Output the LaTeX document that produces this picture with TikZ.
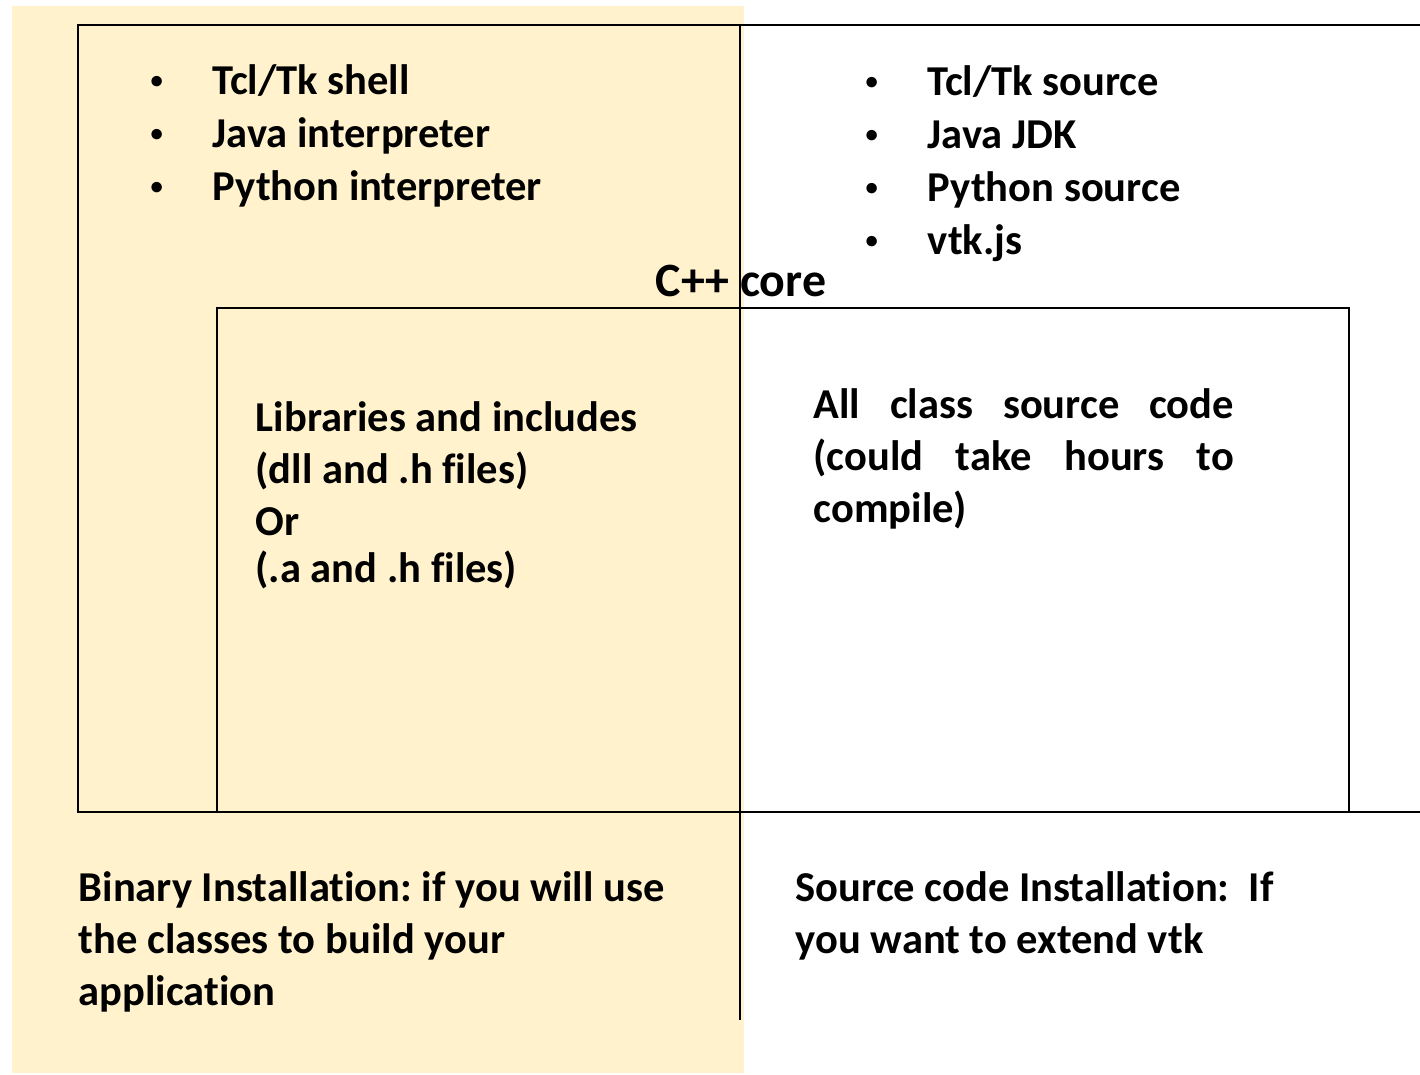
\documentclass[tikz,border=0pt]{standalone}
\usepackage{fontspec}
\setmainfont[RawFeature=-liga]{Carlito}
\definecolor{binyellow}{RGB}{255,242,204}
\newcommand{\bul}{\makebox[0.62cm][l]{\raisebox{0.3ex}{\fontsize{7}{7}\selectfont\textbullet}}}
\frenchspacing

\begin{document}
\begin{tikzpicture}[x=0.01cm, y=-0.01cm,
    frame/.style={draw=black, line width=0.8pt},
    binzone/.style={fill=binyellow},
    txt/.style={inner sep=0pt, anchor=north west, align=left,
      font=\bfseries\fontsize{12.1}{14.8}\selectfont},
    items/.style={txt, font=\bfseries\fontsize{12.1}{15.1}\selectfont},
    jtxt/.style={txt, text width=4.2cm, align=justify}
  ]
    \useasboundingbox (0,0) rectangle (1420,1075);
    % binary side shading
    \fill[binzone] (12,6) rectangle (744,1073);

    % boxes
    \draw[frame] (1420,25) -- (78,25) -- (78,812) -- (1420,812);
    \draw[frame] (217,812) -- (217,308) -- (1349,308) -- (1349,812);
    \draw[frame] (740,25) -- (740,1020);

    \node[items] (wrappers) at (150,64) {
      \bul Tcl/Tk shell\\
      \bul Java interpreter\\
      \bul Python interpreter
    };
    \node[items] (sources) at (865,65) {
      \bul Tcl/Tk source\\
      \bul Java JDK\\
      \bul Python source\\
      \bul vtk.js
    };
    \node[txt, anchor=center, font=\bfseries\fontsize{13.6}{16}\selectfont]
      (core) at (741,281) {C++ core};

    \node[txt] (libs) at (255,401) {
      Libraries and includes\\
      (dll and .h files)\\
      Or\\[-0.05cm]
      (.a and .h files)
    };
    \node[jtxt] (classes) at (813,388) {
      All class source code (could take hours to compile)
    };

    \node[txt] (binary) at (78,871) {
      Binary Installation: if you will use\\
      the classes to build your\\
      application
    };
    \node[txt] (source) at (795,871) {
      Source code Installation:\ \ If\\
      you want to extend vtk
    };
  \end{tikzpicture}
\end{document}
